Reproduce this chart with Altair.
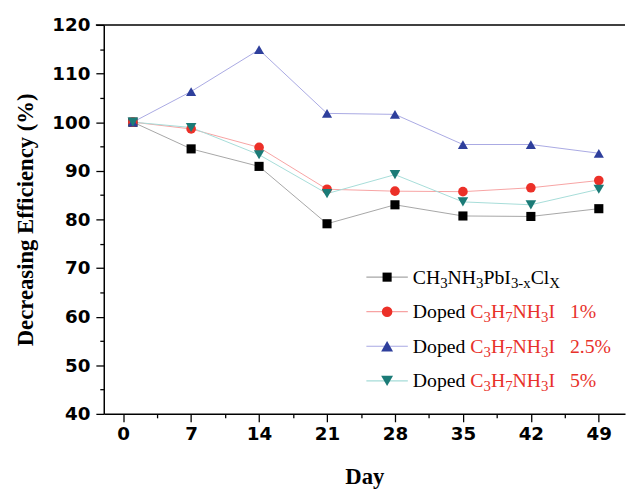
import altair as alt
import pandas as pd

# ---------------- data ----------------
days = [1, 7, 14, 21, 28, 35, 42, 49]
series_names = ["CH3NH3PbI3-xClx", "Doped 1%", "Doped 2.5%", "Doped 5%"]
pristine = [100, 94.5, 90.9, 79.1, 83.0, 80.7, 80.6, 82.2]
doped_1 = [100, 98.6, 94.8, 86.2, 85.8, 85.7, 86.5, 88.0]
doped_25 = [100, 106.3, 114.9, 101.8, 101.6, 95.4, 95.4, 93.6]
doped_5 = [100, 98.9, 93.3, 85.3, 89.2, 83.6, 83.0, 86.2]
x_major = [0, 7, 14, 21, 28, 35, 42, 49]
x_minor = [3.5, 10.5, 17.5, 24.5, 31.5, 38.5, 45.5]
y_major = [40, 50, 60, 70, 80, 90, 100, 110, 120]
y_minor = [45, 55, 65, 75, 85, 95, 105, 115]

# ---------------- styles ----------------
line_colors = ["#a6a6a6", "#f7a3a3", "#a9a9e3", "#a6dcd8"]
marker_colors = ["#000000", "#ec3028", "#2e3f9c", "#1b7b77"]
shapes = ["square", "circle", "triangle-up", "triangle-down"]
sizes = [85, 115, 145, 145]
RED = "#e8312a"
LABEL_FONT = "DejaVu Sans"
SERIF = "Liberation Serif"

W, H = 528, 394

rows = []
for name, vals in zip(series_names, [pristine, doped_1, doped_25, doped_5]):
    for d, v in zip(days, vals):
        rows.append({"series": name, "day": d, "value": v})
df = pd.DataFrame(rows)

xscale = alt.Scale(domain=[-2, 51.7], nice=False, zero=False)
yscale = alt.Scale(domain=[40, 120], nice=False, zero=False)

common = dict(grid=False, domainColor="black", domainWidth=1.5,
              tickColor="black", tickWidth=1.3)
x_axis = alt.Axis(
    values=x_major, tickSize=8, title="Day", orient="bottom",
    labelFont=LABEL_FONT, labelFontWeight="bold", labelFontSize=18.5, labelColor="black",
    labelPadding=3, titleFont=SERIF, titleFontSize=23, titleFontWeight="bold",
    titleColor="black", titlePadding=23, **common)
y_axis = alt.Axis(
    values=y_major, tickSize=8, title="Decreasing Efficiency (%)", orient="left",
    labelFont=LABEL_FONT, labelFontWeight="bold", labelFontSize=18.5, labelColor="black",
    labelPadding=6, titleFont=SERIF, titleFontSize=23, titleFontWeight="bold",
    titleColor="black", titlePadding=15, **common)
x_axis_minor = alt.Axis(values=x_minor, tickSize=4, labels=False, domain=False,
                        title=None, orient="bottom", grid=False, tickColor="black",
                        tickWidth=1.3)
y_axis_minor = alt.Axis(values=y_minor, tickSize=4, labels=False, domain=False,
                        title=None, orient="left", grid=False, tickColor="black",
                        tickWidth=1.3)

base = alt.Chart(df)
lines = base.mark_line(strokeWidth=1).encode(
    x=alt.X("day:Q", scale=xscale, axis=x_axis),
    y=alt.Y("value:Q", scale=yscale, axis=y_axis),
    color=alt.Color("series:N", scale=alt.Scale(domain=series_names, range=line_colors), legend=None),
    detail="series:N",
)
points = base.mark_point(filled=True, opacity=1).encode(
    x=alt.X("day:Q", scale=xscale, axis=x_axis_minor),
    y=alt.Y("value:Q", scale=yscale, axis=y_axis_minor),
    color=alt.Color("series:N", scale=alt.Scale(domain=series_names, range=marker_colors), legend=None),
    shape=alt.Shape("series:N", scale=alt.Scale(domain=series_names, range=shapes), legend=None),
    size=alt.Size("series:N", scale=alt.Scale(domain=series_names, range=sizes), legend=None),
)

one = pd.DataFrame({"k": [0]})
top_border = alt.Chart(one).mark_rule(color="black", strokeWidth=1.5).encode(
    x=alt.value(-8), x2=alt.value(W), y=alt.value(0)
)

# ---------------- custom legend (rich text) ----------------
TIMES = {
    "C": .667, "H": .722, "N": .722, "P": .556, "b": .5, "I": .333, "l": .278,
    "D": .722, "o": .5, "p": .5, "e": .444, "d": .5, "x": .5, "X": .722,
    "-": .333, ".": .25, "%": .833, " ": .25,
}
for ch in "0123456789":
    TIMES[ch] = .5


def tw(s, size):
    return sum(TIMES.get(ch, .5) for ch in s) * size


MAIN, SUB = 20, 15


def doped(pct):
    return [("Doped", 0, "black"), (" ", 0, "black"), ("C", 0, RED), ("3", 1, RED),
            ("H", 0, RED), ("7", 1, RED), ("NH", 0, RED), ("3", 1, RED), ("I", 0, RED),
            ("   ", 0, RED), (pct, 0, RED)]


legend_rich = [
    [("CH", 0, "black"), ("3", 1, "black"), ("NH", 0, "black"), ("3", 1, "black"),
     ("PbI", 0, "black"), ("3-x", 1, "black"), ("Cl", 0, "black"), ("X", 1, "black")],
    doped("1%"), doped("2.5%"), doped("5%"),
]

leg_layers = []
row0, row_gap = 255.5, 35
lx1, lx2, mx, tx = 266, 308, 287, 313
for i in range(4):
    ry = row0 + i * row_gap
    leg_layers.append(alt.Chart(one).mark_rule(color=line_colors[i], strokeWidth=1.2).encode(
        x=alt.value(lx1), x2=alt.value(lx2), y=alt.value(ry)))
    leg_layers.append(alt.Chart(one).mark_point(
        filled=True, opacity=1, shape=shapes[i], size=sizes[i], color=marker_colors[i]).encode(
        x=alt.value(mx), y=alt.value(ry)))
    cx = tx
    for txt, sub, col in legend_rich[i]:
        size = SUB if sub else MAIN
        if txt.strip():
            leg_layers.append(alt.Chart(one).mark_text(
                align="left", baseline="alphabetic", font=SERIF,
                fontSize=size, color=col).encode(
                x=alt.value(cx), y=alt.value(ry + (10.5 if sub else 6.5)), text=alt.value(txt)))
        cx += tw(txt, size)

chart = alt.layer(lines, points, top_border, *leg_layers).resolve_scale(
    color="independent"
).resolve_axis(
    x="independent", y="independent"
).properties(
    width=W, height=H,
    autosize=alt.AutoSizeParams(type="none"),
    padding={"left": 97, "top": 14, "right": 2, "bottom": 74},
).configure_view(stroke=None)

chart.save("out.html", embed_options={"renderer": "svg", "actions": False})
